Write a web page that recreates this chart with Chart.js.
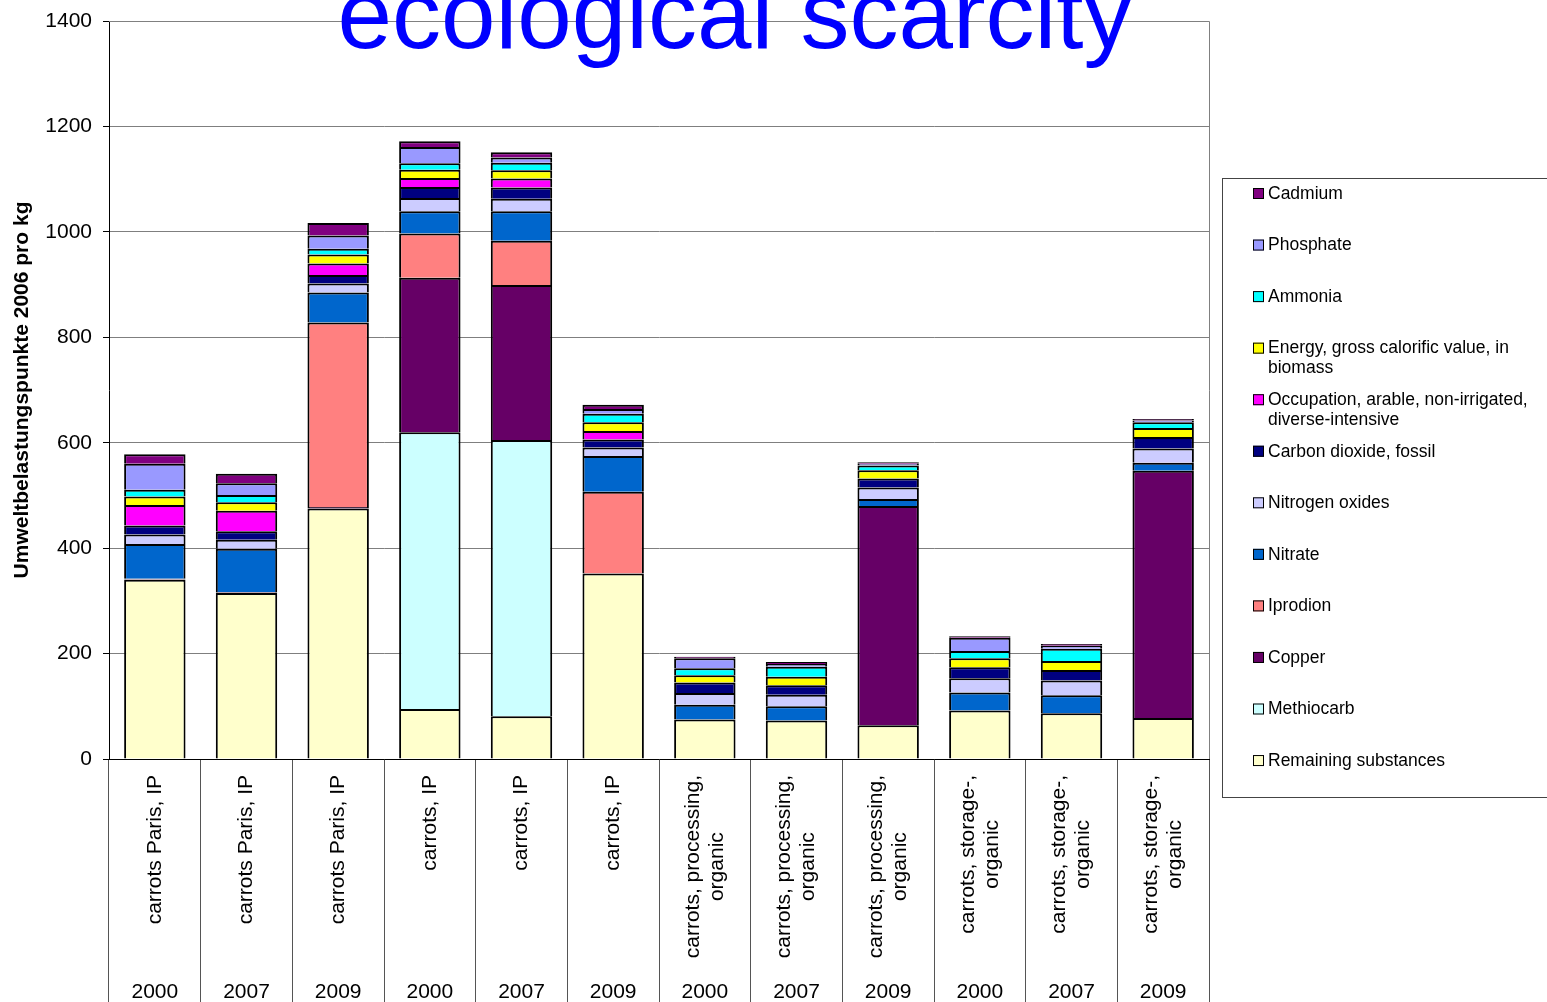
<!DOCTYPE html>
<html>
<head>
<meta charset="utf-8">
<script src="https://cdn.jsdelivr.net/npm/chart.js@4.4.0/dist/chart.umd.min.js"></script>
<style>
  html, body { margin: 0; padding: 0; background: #fff; }
</style>
</head>
<body>
<canvas id="chart" width="1547" height="1002"></canvas>
<script>
const chartTitle = 'ecological scarcity';
const yTitle = 'Umweltbelastungspunkte 2006 pro kg';

// category labels (lines of the rotated label) and the year row under them
const products = [
  ['carrots Paris, IP'], ['carrots Paris, IP'], ['carrots Paris, IP'],
  ['carrots, IP'], ['carrots, IP'], ['carrots, IP'],
  ['carrots, processing,', 'organic'], ['carrots, processing,', 'organic'], ['carrots, processing,', 'organic'],
  ['carrots, storage-,', 'organic'], ['carrots, storage-,', 'organic'], ['carrots, storage-,', 'organic']
];
const years = ['2000', '2007', '2009', '2000', '2007', '2009', '2000', '2007', '2009', '2000', '2007', '2009'];
const yTicks = [0, 200, 400, 600, 800, 1000, 1200, 1400];

// series, bottom to top
const remaining      = [340, 315, 475, 95, 81, 352, 75, 73, 64, 92, 87, 78];
const methiocarb     = [0, 0, 0, 525, 524, 0, 0, 0, 0, 0, 0, 0];
const copper         = [1, 1, 3, 293, 294, 0, 0, 0, 416, 0, 0, 469];
const iprodion       = [1, 1, 350, 84, 84, 155, 0, 0, 0, 0, 0, 0];
const nitrate        = [66, 82, 57, 42, 56, 68, 28, 27, 13, 34, 34, 15];
const nitrogenOxides = [18, 17, 17, 25, 24, 16, 22, 22, 22, 27, 28, 27];
const co2Fossil      = [17, 16, 16, 21, 21, 15, 20, 18, 17, 21, 20, 22];
const occupation     = [39, 39, 22, 17, 17, 16, 0, 0, 0, 0, 0, 0];
const energy         = [16, 16, 17, 16, 16, 17, 14, 16, 16, 17, 17, 17];
const ammonia        = [13, 14, 11, 12, 14, 16, 13, 19, 9, 14, 23, 11];
const phosphate      = [49, 22, 25, 31, 10, 9, 19, 5, 3, 25, 6, 3];
const cadmium        = [18, 18, 24, 11, 10, 8, 3, 4, 3, 3, 3, 3];

const seriesNames = ['Remaining substances', 'Methiocarb', 'Copper', 'Iprodion', 'Nitrate',
  'Nitrogen oxides', 'Carbon dioxide, fossil', 'Occupation, arable, non-irrigated, diverse-intensive',
  'Energy, gross calorific value, in biomass', 'Ammonia', 'Phosphate', 'Cadmium'];
const seriesData = [remaining, methiocarb, copper, iprodion, nitrate, nitrogenOxides,
  co2Fossil, occupation, energy, ammonia, phosphate, cadmium];
const seriesColors = ['#FFFFCC', '#CCFFFF', '#660066', '#FF8080', '#0066CC', '#CCCCFF',
  '#000080', '#FF00FF', '#FFFF00', '#00FFFF', '#9999FF', '#800080'];

const FONT = '"Liberation Sans", Arial, sans-serif';
Chart.defaults.font.family = FONT;
Chart.defaults.color = '#000';

function wrapText(ctx, text, maxW) {
  const words = text.split(' ');
  const lines = [];
  let cur = '';
  words.forEach(w => {
    const test = cur ? cur + ' ' + w : w;
    if (ctx.measureText(test).width > maxW && cur) {
      lines.push(cur);
      cur = w;
    } else {
      cur = test;
    }
  });
  if (cur) lines.push(cur);
  return lines;
}

const decorations = {
  id: 'decorations',
  beforeDatasetsDraw(chart) {
    const ctx = chart.ctx, a = chart.chartArea;
    ctx.save();
    ctx.strokeStyle = '#808080';
    ctx.lineWidth = 1;
    ctx.beginPath();
    ctx.moveTo(a.left, a.top + 0.5);
    ctx.lineTo(a.right + 0.5, a.top + 0.5);
    ctx.lineTo(a.right + 0.5, a.bottom);
    ctx.stroke();
    ctx.restore();
  },
  afterDraw(chart) {
    const ctx = chart.ctx, a = chart.chartArea, xs = chart.scales.x;
    ctx.save();

    // category labels, rotated, and years
    ctx.fillStyle = '#000';
    ctx.font = '21px ' + FONT;
    products.forEach((lines, i) => {
      const cx = xs.getPixelForValue(i);
      const block = Math.max(...lines.map(l => ctx.measureText(l).width));
      const midY = a.bottom + 16 + block / 2;
      lines.forEach((l, j) => {
        const lx = cx + (j - (lines.length - 1) / 2) * 24;
        ctx.save();
        ctx.translate(lx, midY);
        ctx.rotate(-Math.PI / 2);
        ctx.textAlign = 'center';
        ctx.textBaseline = 'middle';
        ctx.fillText(l, 0, 0);
        ctx.restore();
      });
      ctx.textAlign = 'center';
      ctx.textBaseline = 'alphabetic';
      ctx.fillText(years[i], cx, 998);
    });

    // y axis title
    ctx.save();
    ctx.translate(22, (a.top + a.bottom) / 2);
    ctx.rotate(-Math.PI / 2);
    ctx.font = 'bold 21px ' + FONT;
    ctx.textAlign = 'center';
    ctx.textBaseline = 'middle';
    ctx.fillText(yTitle, 0, 0);
    ctx.restore();

    // legend
    ctx.strokeStyle = '#444';
    ctx.lineWidth = 1;
    ctx.strokeRect(1222.5, 178.5, 400, 619);
    ctx.font = '17.5px ' + FONT;
    ctx.textAlign = 'left';
    ctx.textBaseline = 'middle';
    const ds = chart.data.datasets.slice().reverse();
    ds.forEach((d, k) => {
      const y = 194 + k * 51.55;
      ctx.fillStyle = d.backgroundColor;
      ctx.fillRect(1253, y - 6, 11, 11);
      ctx.strokeStyle = '#000';
      ctx.strokeRect(1253.5, y - 5.5, 10, 10);
      ctx.fillStyle = '#000';
      wrapText(ctx, d.label, 270).forEach((l, j) => {
        ctx.fillText(l, 1268, y + j * 20);
      });
    });

    // title
    ctx.fillStyle = '#0000FF';
    ctx.font = '98px ' + FONT;
    ctx.textAlign = 'center';
    ctx.textBaseline = 'alphabetic';
    ctx.fillText(chartTitle, 735, 48);
    ctx.restore();
  }
};

new Chart(document.getElementById('chart'), {
  type: 'bar',
  data: {
    labels: products.map((p, i) => p.join(' ') + ' ' + years[i]),
    datasets: seriesNames.map((name, i) => ({
      label: name,
      data: seriesData[i],
      backgroundColor: seriesColors[i],
      borderColor: '#000',
      borderWidth: 2,
      categoryPercentage: 1,
      barPercentage: 0.67
    }))
  },
  options: {
    responsive: false,
    animation: false,
    layout: { padding: { top: 21, right: 338, bottom: 0, left: 0 } },
    plugins: { legend: { display: false }, tooltip: { enabled: false } },
    scales: {
      x: {
        stacked: true,
        ticks: { display: false },
        grid: { offset: true, drawOnChartArea: false, drawTicks: true, tickLength: 243, color: '#555' },
        border: { color: '#000', width: 1 },
        afterFit(scale) { scale.height = 243; }
      },
      y: {
        stacked: true,
        min: 0,
        max: 1400,
        afterBuildTicks(scale) { scale.ticks = yTicks.map(v => ({ value: v })); },
        ticks: { font: { size: 21 }, padding: 11, color: '#000', callback: v => String(v) },
        grid: { color: '#7f7f7f', tickLength: 6, tickColor: '#000' },
        border: { color: '#000', width: 1 },
        afterFit(scale) {
          scale.width = 109;
          scale.paddingTop = 0;
          scale.paddingBottom = 0;
        }
      }
    }
  },
  plugins: [decorations]
});
</script>
</body>
</html>
